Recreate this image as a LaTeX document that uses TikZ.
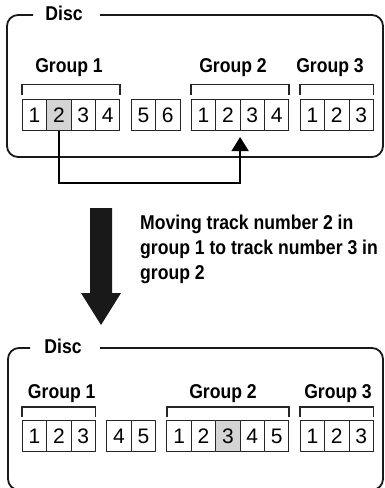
\documentclass[tikz,border=0pt]{standalone}
\usepackage{fontspec}
\setmainfont{Liberation Sans}
\newfontfamily\narrowsans{Liberation Sans}[FakeStretch=0.88]
\usetikzlibrary{arrows.meta,positioning}

\begin{document}
\begin{tikzpicture}[x=1pt,y=-1pt,
  trackbox/.style={draw=black!85,line width=0.9pt,minimum width=24.4pt,minimum height=31pt,inner sep=0pt,outer sep=0pt,font=\fontsize{21}{21}\selectfont},
  trackhot/.style={trackbox,fill=black!17},
  grplabel/.style={font=\narrowsans\fontsize{20}{25}\selectfont\bfseries,inner sep=0pt,anchor=base},
  discframe/.style={draw=black!90,line width=1.8pt,rounded corners=11pt},
  grpbracket/.style={draw=black!85,line width=1.8pt}]
\clip (0,0) rectangle (385,488);
% before the move
\draw[discframe] (100,15) -- (383,15) -- (383,157) -- (7,157) -- (7,15) -- (33,15);
\node[grplabel] (disc1) at (64,20) {Disc};
\node[trackbox,anchor=north west] (a11) at (22.3,99.5) {1};
\node[trackhot,right=0pt of a11] (a12) {2};
\node[trackbox,right=0pt of a12] (a13) {3};
\node[trackbox,right=0pt of a13] (a14) {4};
\node[trackbox,right=11.3pt of a14] (a15) {5};
\node[trackbox,right=0pt of a15] (a16) {6};
\node[trackbox,right=11.3pt of a16] (a21) {1};
\node[trackbox,right=0pt of a21] (a22) {2};
\node[trackbox,right=0pt of a22] (a23) {3};
\node[trackbox,right=0pt of a23] (a24) {4};
\node[trackbox,right=11.3pt of a24] (a31) {1};
\node[trackbox,right=0pt of a31] (a32) {2};
\node[trackbox,right=0pt of a32] (a33) {3};
\draw[grpbracket] ([yshift=4.5pt]a11.north west) -- ++(0,-10.5) -| ([yshift=4.5pt]a14.north east);
\draw[grpbracket] ([yshift=4.5pt]a21.north west) -- ++(0,-10.5) -| ([yshift=4.5pt]a24.north east);
\draw[grpbracket] ([yshift=4.5pt]a31.north west) -- ++(0,-10.5) -| ([yshift=4.5pt]a33.north east);
\node[grplabel] (ga1) at (69,72) {Group 1};
\node[grplabel] (ga2) at (233,72) {Group 2};
\node[grplabel] (ga3) at (330,72) {Group 3};
\coordinate (turn) at (0,183);
\draw[line width=1.5pt,-{Triangle[length=14pt,width=17pt]},shorten >=6.5pt] (a12.south) -- (a12.south |- turn) -| (a23.south west);
% the move
\fill[black!90] (90,208) -- (112,208) -- (112,293) -- (121,293) -- (101,325) -- (81,293) -- (90,293) -- cycle;
\node[grplabel,anchor=base west,align=left] (note) at (140,279) {Moving track number 2 in\\group 1 to track number 3 in\\group 2};
% after the move
\draw[discframe] (100,348) -- (383,348) -- (383,490) -- (8,490) -- (8,348) -- (30,348);
\node[grplabel] (disc2) at (63,353) {Disc};
\node[trackbox,anchor=north west] (b11) at (22.3,420.5) {1};
\node[trackbox,right=0pt of b11] (b12) {2};
\node[trackbox,right=0pt of b12] (b13) {3};
\node[trackbox,right=11.3pt of b13] (b14) {4};
\node[trackbox,right=0pt of b14] (b15) {5};
\node[trackbox,right=11.3pt of b15] (b21) {1};
\node[trackbox,right=0pt of b21] (b22) {2};
\node[trackhot,right=0pt of b22] (b23) {3};
\node[trackbox,right=0pt of b23] (b24) {4};
\node[trackbox,right=0pt of b24] (b25) {5};
\node[trackbox,right=11.3pt of b25] (b31) {1};
\node[trackbox,right=0pt of b31] (b32) {2};
\node[trackbox,right=0pt of b32] (b33) {3};
\draw[grpbracket] ([yshift=3.5pt]b11.north west) -- ++(0,-10) -| ([yshift=3.5pt]b13.north east);
\draw[grpbracket] ([yshift=3.5pt]b21.north west) -- ++(0,-10) -| ([yshift=3.5pt]b25.north east);
\draw[grpbracket] ([yshift=3.5pt]b31.north west) -- ++(0,-10) -| ([yshift=3.5pt]b33.north east);
\node[grplabel] (gb1) at (61.7,398) {Group 1};
\node[grplabel] (gb2) at (223,398) {Group 2};
\node[grplabel] (gb3) at (338,398) {Group 3};
\end{tikzpicture}
\end{document}
